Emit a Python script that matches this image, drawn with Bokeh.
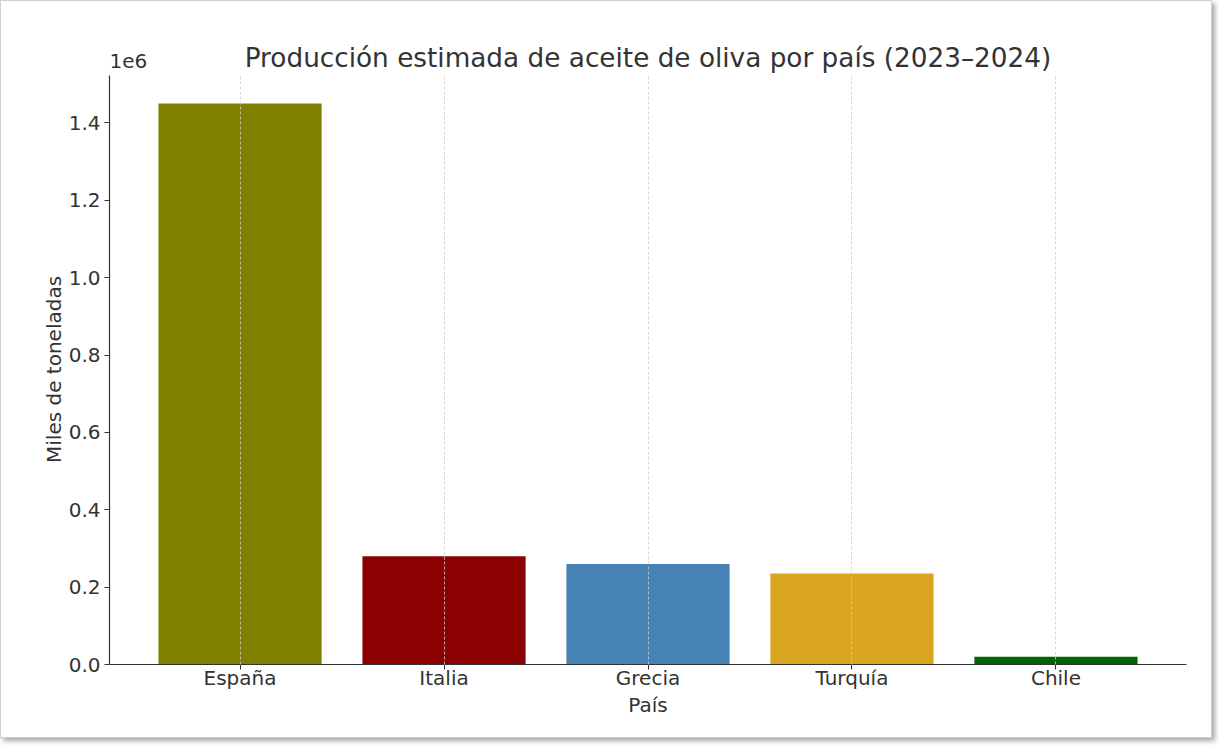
from bokeh.plotting import figure
from bokeh.models import FactorRange, Range1d, ColumnDataSource, CustomJSTickFormatter, FixedTicker, Label
from bokeh.embed import file_html
from bokeh.resources import INLINE

countries = ["España", "Italia", "Grecia", "Turquía", "Chile"]
production = [1450000, 280000, 260000, 235000, 20000]
colors = ["#808000", "#8B0000", "#4682B4", "#DAA520", "#006400"]
y_ticks = [0, 200000, 400000, 600000, 800000, 1000000, 1200000, 1400000]
title_text = "Producción estimada de aceite de oliva por país (2023–2024)"
y_label = "Miles de toneladas"

FONT = "DejaVu Sans"
TXT = "#333333"

W, H = 1212, 738
BL, BR, BT, BB = 108, 27, 22, 75
FW, FH = W - BL - BR, H - BT - BB          # frame size in px
AXIS_PX = 589                               # pixel height of the y axis (0 .. ymax)
ymax = max(production) * 1.05
y_end = ymax * FH / AXIS_PX                 # extra room above the axis for title texts

src = ColumnDataSource(dict(country=countries, value=production, color=colors))

p = figure(
    width=W, height=H,
    x_range=FactorRange(factors=countries, range_padding=0.056),
    y_range=Range1d(0, y_end),
    output_backend="svg", toolbar_location=None,
    min_border_left=BL, min_border_right=BR, min_border_top=BT, min_border_bottom=BB,
)
p.styles = {"box-shadow": "3px 3px 5px rgba(0,0,0,0.35)", "border": "1px solid #d0d0d0"}
p.outline_line_color = None

p.vbar(x="country", top="value", width=0.8, color="color", line_color=None, source=src)

for ax in (p.xaxis[0], p.yaxis[0]):
    ax.axis_line_color = TXT
    ax.axis_line_width = 1.2
    ax.major_tick_line_color = TXT
    ax.major_tick_out = 5
    ax.major_tick_in = 0
    ax.minor_tick_line_color = None
    ax.major_label_text_font = FONT
    ax.major_label_text_font_size = "20px"
    ax.major_label_text_color = TXT
    ax.axis_label_text_font = FONT
    ax.axis_label_text_font_size = "20px"
    ax.axis_label_text_font_style = "normal"
    ax.axis_label_text_color = TXT

p.xaxis.axis_label = "País"
# trailing non-breaking spaces centre the label on the axis line rather than on the taller frame
p.yaxis.axis_label = y_label + "\u00a0" * 8
p.xaxis.major_label_standoff = -4
p.xaxis.axis_label_standoff = 0
p.yaxis.major_label_standoff = 4
p.yaxis.axis_label_standoff = 0
p.yaxis.ticker = FixedTicker(ticks=y_ticks)
p.yaxis.formatter = CustomJSTickFormatter(code="return (tick/1e6).toFixed(1);")
p.yaxis.bounds = (0, ymax)

p.ygrid.grid_line_color = None
g = p.xgrid[0]
if "cross_bounds" in g.properties():
    g.cross_bounds = (0, ymax)
    g.grid_line_color = "#cccccc"
    g.grid_line_width = 0.8
    g.grid_line_dash = "3 2"
    g.level = "overlay"
else:
    g.grid_line_color = None
    gl = p.segment(x0=countries, x1=countries, y0=[0] * len(countries), y1=[ymax] * len(countries),
                   line_color="#cccccc", line_width=0.8, line_dash="3 2")
    gl.level = "overlay"

# texts above the axis, placed in frame-relative screen units (origin bottom-left)
p.add_layout(Label(x=FW / 2, y=AXIS_PX + 18, x_units="screen", y_units="screen", text=title_text,
                   text_font=FONT, text_font_size="26.3px", text_color=TXT,
                   text_baseline="middle", text_align="center"))
p.add_layout(Label(x=0, y=AXIS_PX + 15, x_units="screen", y_units="screen", text="1e6",
                   text_font=FONT, text_font_size="20px", text_color=TXT,
                   text_baseline="middle", text_align="left"))

open("out.html", "w").write(file_html(p, INLINE))
